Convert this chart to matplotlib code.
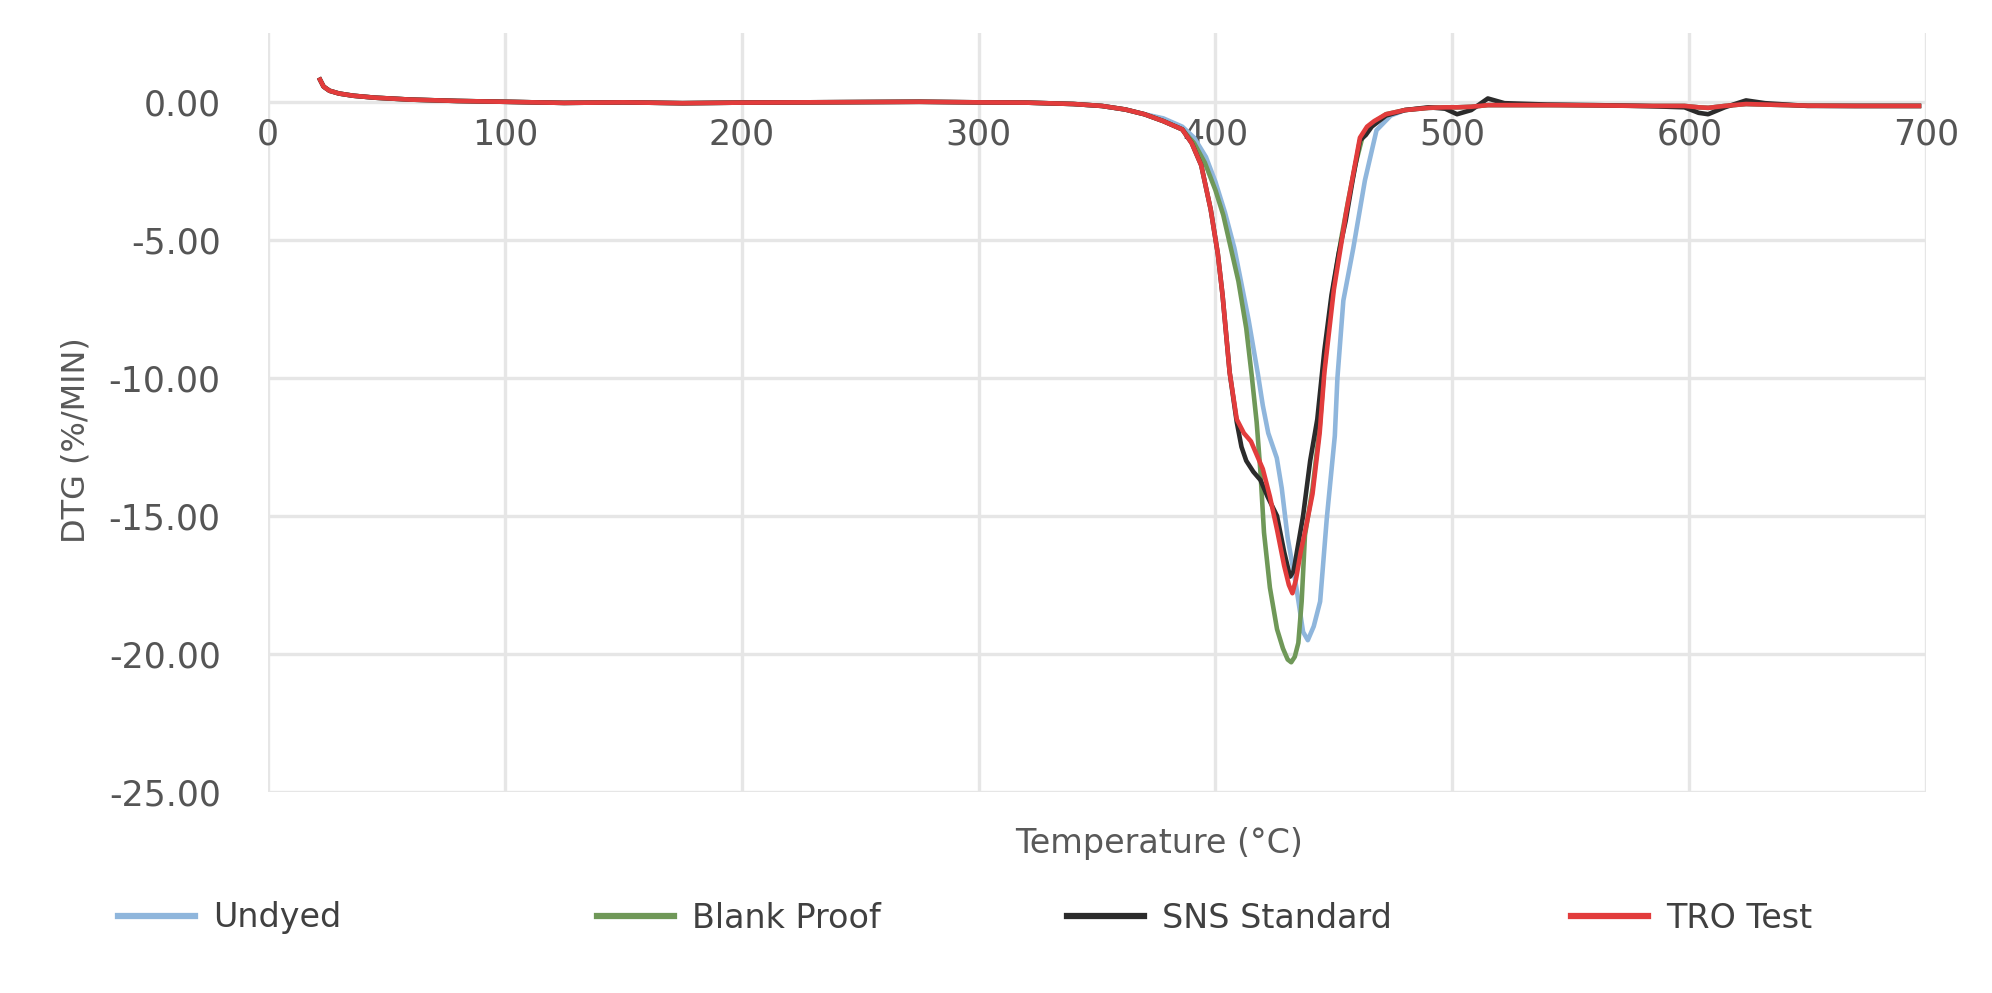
import numpy as np
import matplotlib.pyplot as plt
from matplotlib.lines import Line2D

names = ["Undyed", "Blank Proof", "SNS Standard", "TRO Test"]
colors = ["#8fb6dc", "#6f9858", "#2b2b2b", "#e23c3c"]

# baseline before the peak, shared by all four runs
head_t = [22, 23.5, 26, 30, 36, 45, 60, 80, 100, 125, 150, 175, 200, 225, 250, 275, 300, 320, 340, 352, 362, 370]
head_dtg = [0.8, 0.55, 0.4, 0.3, 0.22, 0.15, 0.08, 0.03, 0.0, -0.04, -0.02, -0.05, -0.03, -0.02, -0.01, 0.0, -0.02, -0.03, -0.08, -0.15, -0.28, -0.45]

# peak region, per run
undyed_t = [378, 386, 391, 396, 400, 404, 408, 411, 414, 416, 418, 420, 422.3, 425.9, 428, 430.5, 434, 437, 439, 441.5, 444.2, 447, 450.4, 451.5, 454, 458.2, 463.1, 468, 474]
undyed_dtg = [-0.6, -0.9, -1.3, -2.0, -2.9, -4.0, -5.3, -6.6, -7.9, -8.9, -9.9, -11.0, -12.0, -12.9, -14.0, -15.8, -17.5, -19.2, -19.5, -19.0, -18.1, -15.1, -12.1, -10.0, -7.2, -5.3, -2.85, -1.03, -0.5]

blank_t = [378, 386, 391, 395.5, 400, 403.3, 406.5, 409.7, 413, 415.3, 417.4, 419, 420.5, 423, 426, 428.5, 430.5, 432, 433.5, 435, 436.4, 437.8, 441, 444, 446, 448, 450, 453, 456, 459, 462, 466, 472]
blank_dtg = [-0.7, -1.0, -1.5, -2.2, -3.2, -4.1, -5.3, -6.5, -8.2, -9.9, -11.6, -13.4, -15.6, -17.6, -19.1, -19.8, -20.2, -20.3, -20.1, -19.6, -18.1, -15.7, -14.0, -11.8, -9.6, -8.0, -6.6, -5.0, -3.6, -2.3, -1.3, -0.8, -0.45]

sns_t = [378, 386, 390, 394, 398, 401, 403, 406, 409, 411, 413, 416, 419, 422, 426, 429, 431.5, 433, 435, 437, 440, 443, 446, 449, 452, 455, 458, 461, 463.5, 466, 472]
sns_dtg = [-0.7, -1.0, -1.5, -2.3, -3.9, -5.5, -7.0, -9.8, -11.6, -12.5, -13.0, -13.4, -13.7, -14.3, -15.0, -16.3, -17.2, -17.0, -16.0, -15.0, -13.0, -11.5, -9.0, -7.0, -5.5, -4.3, -2.8, -1.4, -1.2, -0.9, -0.5]

tro_t = [378, 386, 390, 394, 398, 401, 403, 406, 409, 412, 415, 418, 420, 423, 426, 429, 431, 432.5, 434, 436, 438, 441, 444, 446, 448, 450, 453, 455, 458, 461, 464, 467, 472]
tro_dtg = [-0.7, -1.0, -1.5, -2.3, -3.9, -5.5, -7.0, -9.8, -11.5, -12.0, -12.3, -12.9, -13.3, -14.3, -15.5, -16.8, -17.5, -17.8, -17.3, -16.3, -15.5, -14.2, -12.0, -9.8, -8.3, -6.8, -5.2, -4.1, -2.7, -1.3, -0.9, -0.7, -0.45]

# baseline after the peak
tail_t = [480, 490, 497, 502, 508, 515, 522, 540, 560, 580, 598, 604, 608, 615, 624, 632, 650, 670, 697]
tail_sns = [-0.3, -0.2, -0.25, -0.45, -0.3, 0.12, -0.05, -0.1, -0.12, -0.15, -0.2, -0.4, -0.45, -0.2, 0.05, -0.05, -0.15, -0.15, -0.15]
tail_flat = [-0.3, -0.22, -0.2, -0.2, -0.18, -0.12, -0.12, -0.12, -0.13, -0.15, -0.15, -0.2, -0.22, -0.15, -0.08, -0.1, -0.14, -0.15, -0.15]

yticks = [0, -5, -10, -15, -20, -25]
ytick_labels = ["0.00", "-5.00", "-10.00", "-15.00", "-20.00", "-25.00"]
xticks = [0, 100, 200, 300, 400, 500, 600, 700]

peaks = [(undyed_t, undyed_dtg, tail_flat), (blank_t, blank_dtg, tail_flat),
         (sns_t, sns_dtg, tail_sns), (tro_t, tro_dtg, tail_flat)]

fig = plt.figure(figsize=(19.92, 9.93), dpi=100)
ax = fig.add_axes([0.1345, 0.2024, 0.8324, 0.7646])

for (pt, pd, tail), c in zip(peaks, colors):
    t = head_t + pt + tail_t
    d = head_dtg + pd + tail
    ax.plot(t, d, color=c, lw=3.3, solid_joinstyle='round')

ax.set_xlim(0, 700)
ax.set_ylim(-25, 2.5)
ax.set_xticks(xticks)
ax.set_yticks(yticks)
ax.set_yticklabels(ytick_labels)
ax.grid(True, color='#e6e6e6', lw=2.4)
ax.set_axisbelow(True)
for s in ['top', 'right', 'left']:
    ax.spines[s].set_visible(False)
ax.spines['bottom'].set_position(('data', 0))
ax.spines['bottom'].set_color('none')
ax.tick_params(axis='x', length=0, pad=11, labelsize=25, labelcolor='#555555')
ax.tick_params(axis='y', length=0, pad=34, labelsize=25, labelcolor='#555555')

fig.text(76 / 1992, 1 - 440 / 993, "DTG (%/MIN)", rotation=90, ha='center', va='center',
         fontsize=23, color='#595959')
fig.text(1159 / 1992, 1 - 843 / 993, "Temperature (\u00b0C)", ha='center', va='center',
         fontsize=24, color='#595959')

leg_x = [118, 597, 1067, 1571]
for name, c, x in zip(names, colors, leg_x):
    h = Line2D([], [], color=c, lw=4.5)
    fig.legend(handles=[h], labels=[name], loc='center left',
               bbox_to_anchor=(x / 1992, 1 - 918 / 993), frameon=False,
               handlelength=2.3, handletextpad=0.55, borderpad=0, borderaxespad=0,
               fontsize=24, labelcolor='#404040')

fig.savefig("out.png", dpi=100, facecolor='white')
